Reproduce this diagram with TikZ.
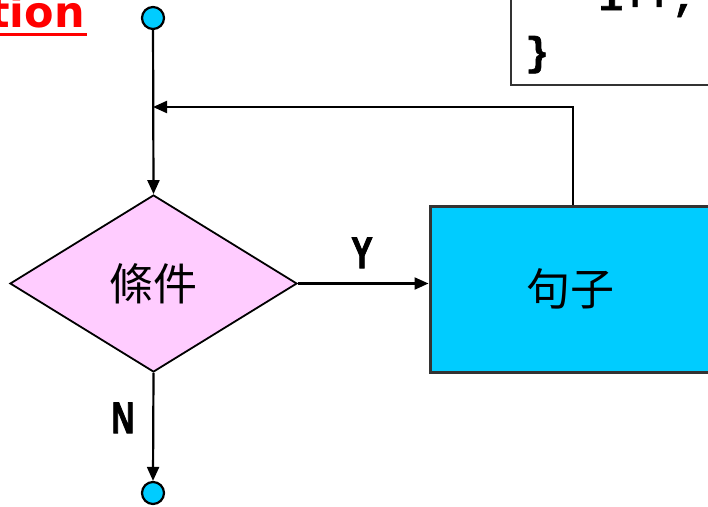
\documentclass[tikz,border=0pt]{standalone}
\usepackage{fontspec}
\newfontfamily\cjk{Noto Sans CJK TC}
\newfontfamily\codefont[BoldFeatures={FakeBold=1.5}]{Liberation Mono}
\newfontfamily\ynfont[BoldFeatures={FakeBold=2.5}]{Liberation Sans}
\newfontfamily\titlefont{DejaVu Sans}
\usetikzlibrary{shapes.geometric, arrows.meta}
\definecolor{celeste}{RGB}{0,204,255}
\definecolor{rosa}{RGB}{255,204,255}
\newcommand{\angosto}[1]{\scalebox{0.72}[1]{#1}}

\begin{document}
\begin{tikzpicture}[x=1pt, y=-1pt,
    flecha/.style={-{Triangle[length=14pt,width=12pt]}, line width=2.2pt},
    terminal/.style={circle, draw, line width=2.2pt, fill=celeste, minimum size=22pt, inner sep=0pt},
    decision/.style={diamond, draw, line width=1.8pt, fill=rosa, minimum width=287pt, minimum height=177pt, inner sep=0pt, font=\cjk\fontsize{44}{50}\selectfont},
    bloque/.style={rectangle, draw=black!80, line width=3pt, fill=celeste, minimum width=280pt, minimum height=166pt, font=\cjk\fontsize{44}{50}\selectfont},
    etiqueta/.style={inner sep=0pt, font=\ynfont\bfseries\fontsize{44}{48}\selectfont},
    codigo/.style={inner sep=0pt, font=\codefont\bfseries\fontsize{40}{46}\selectfont}]
    \useasboundingbox (0,0) rectangle (708,506);

    % Titulo cortado
    \node[inner sep=0pt, anchor=base east, text=red, font=\titlefont\bfseries\fontsize{43}{48}\selectfont] (titulo) at (85,27) {tion};
    \draw[red, line width=3.5pt] (0,34.5) -- (87,34.5);

    % Recuadro de codigo
    \draw[black!80, line width=2.2pt] (511,-20) rectangle (730,85);
    \node[codigo, anchor=base west] (incr) at (599,10) {i++;};
    \node[codigo, anchor=base west] (llave) at (525,65) {\}};

    % Nodos
    \node[terminal] (inicio) at (153,18) {};
    \node[decision] (cond) at (153.5,283.5) {條件};
    \node[bloque] (sent) at (570,289) {句子};
    \node[terminal] (fin) at (153,493) {};
    \coordinate (union) at (153,107);

    % Flechas
    \draw[flecha] (inicio) -- (cond.north);
    \draw[flecha] (cond.east) -- (cond.east -| sent.west);
    \draw[flecha] (cond.south) -- (fin.north);
    \draw[flecha] ([xshift=3pt]sent.north) |- (union);

    % Etiquetas
    \node[etiqueta, anchor=base] (si) at (362,268) {\angosto{Y}};
    \node[etiqueta, anchor=base] (no) at (123,433) {\angosto{N}};
\end{tikzpicture}
\end{document}
